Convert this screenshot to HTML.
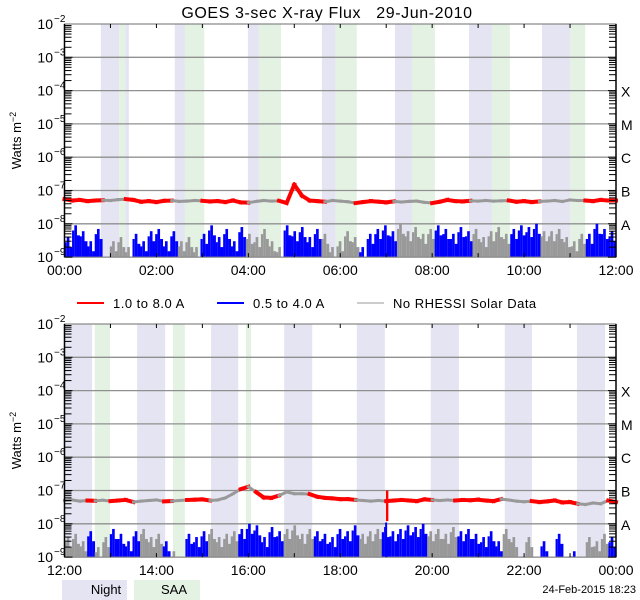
<!DOCTYPE html>
<html><head><meta charset="utf-8"><style>
html,body{margin:0;padding:0;background:#fff;}
svg{display:block;font-family:"Liberation Sans",sans-serif;}
</style></head><body>
<svg id="chart" width="640" height="600" viewBox="0 0 640 600" xmlns="http://www.w3.org/2000/svg">
<text x="327" y="18" font-size="16" text-anchor="middle" fill="#000" xml:space="preserve" letter-spacing="0.6">GOES 3-sec X-ray Flux   29-Jun-2010</text>
<g id="p0"></g>
<g id="p1"></g>
<g>
 <line x1="77" y1="303" x2="104" y2="303" stroke="#f00" stroke-width="2"/>
 <text x="113" y="308" font-size="13" letter-spacing="0.5">1.0 to 8.0 A</text>
 <line x1="217" y1="303" x2="244" y2="303" stroke="#00f" stroke-width="2"/>
 <text x="253" y="308" font-size="13" letter-spacing="0.5">0.5 to 4.0 A</text>
 <line x1="357" y1="303" x2="384" y2="303" stroke="#999" stroke-width="1"/>
 <text x="393" y="308" font-size="13" letter-spacing="0.5">No RHESSI Solar Data</text>
</g>
<g>
 <rect x="62" y="580" width="65" height="20" fill="#e4e4f2"/>
 <text x="106" y="594" font-size="13" text-anchor="middle">Night</text>
 <rect x="134" y="580" width="66" height="20" fill="#e4f2e4"/>
 <text x="174" y="594" font-size="13" text-anchor="middle">SAA</text>
</g>
<text x="636" y="593" font-size="11" text-anchor="end">24-Feb-2015 18:23</text>
</svg>
<script>
// ---- data ----
const hourTicks0 = ["00:00","02:00","04:00","06:00","08:00","10:00","12:00"];
const hourTicks1 = ["12:00","14:00","16:00","18:00","20:00","22:00","00:00"];
const classLabels = ["X","M","C","B","A"];
const nightBands0 = [[0.79,1.19],[1.32,1.40],[2.40,2.62],[3.99,4.23],[5.60,5.90],[7.19,7.56],[8.80,9.30],[10.39,11.00]];
const saaBands0 = [[1.19,1.32],[2.62,3.04],[4.23,4.71],[5.90,6.36],[7.56,8.06],[9.30,9.69],[11.00,11.33]];
const nightBands1 = [[12.0,12.60],[13.58,14.19],[15.19,15.78],[16.78,17.39],[18.36,18.97],[19.97,20.58],[21.58,22.17],[23.15,23.76]];
const saaBands1 = [[12.66,12.99],[14.36,14.62],[15.95,16.06]];
const grayIntervals0 = [[0.79,1.40],[2.40,3.04],[3.99,4.71],[5.60,6.36],[7.19,8.02],[8.80,9.65],[10.39,11.28]];
const grayIntervals1 = [[12.0,12.55],[12.72,12.95],[13.58,14.17],[14.38,14.60],[15.19,15.77],[16.03,16.10],[16.72,17.39],[18.36,18.97],[19.97,20.56],[21.58,22.17],[23.15,23.76]];
// long channel (1-8 A), units 1e-8 W/m2, 10-minute samples
const longFlux0 = [5.5,5.0,5.2,4.8,5.0,5.1, 5.0,5.3,5.5,5.2,4.6,4.8, 4.5,4.9,5.0,4.7,4.8,5.0, 4.9,4.7,4.8,4.5,5.0,4.4, 4.3,4.7,5.0,4.8,4.9,4.2, 15,7.0,5.0,4.8,4.6,5.0, 4.8,4.6,4.2,4.5,4.8,4.6, 4.4,4.7,4.5,4.7,4.8,4.4, 4.2,4.6,5.2,4.8,4.7,4.9, 4.8,5.0,4.8,4.9,5.0,4.6, 4.8,4.5,4.7,4.8,5.0,4.7, 5.2,5.0,5.0,4.8,5.2,5.0,5.0];
const longFlux1 = [5.0,5.2,4.8,5.0,4.9,5.1, 4.8,5.0,5.2,4.5,4.8,5.0, 5.2,4.7,4.8,5.0,5.2,5.3, 5.4,5.0,5.2,6.0,8.0,11, 13,9.0,6.2,6.0,7.0,9.0, 8.0,8.0,7.8,6.5,6.0,5.8, 5.5,5.5,5.2,5.0,4.8,5.0, 4.8,5.0,5.2,5.0,4.8,5.4, 5.2,5.0,5.2,5.0,5.2,5.1, 5.3,5.0,4.8,5.5,5.2,4.8, 4.6,4.8,4.5,4.7,5.0,4.4, 4.5,4.0,3.8,4.2,4.0,5.0,4.5];
// short channel (0.5-4 A), units 1e-9 W/m2, 10-minute samples (<1 = below floor)
const shortFlux0 = [4,9,6,3,7,1, 3,4,2,5,3,6, 7,3,6,3,4,2, 5,9,4,7,3,8, 5,4,7,3,2,9, 6,8,4,7,5,2, 3,6,4,2,5,7, 9,6,10,6,8,5, 7,9,7,5,8,6, 7,4,6,8,5,7, 9,8,10,6,6,7, 4,3,5,5,10,7,6];
const shortFlux1 = [4,5,3,6,2,4, 7,5,3,6,7,4, 5,3,1.5,0.5,5,4, 6,7,4,5,6,7, 10,9,4,8,6,7, 9,5,7,6,5,4, 7,6,9,5,6,7, 8,6,7,9,8,10, 6,7,5,8,6,7, 5,4,6,3,7,4, 1,4,1,3,0.5,5, 0.5,1.5,0.5,4,3,5,4];
const glitchTime = 19.02, glitchHigh = 1.0e-7, glitchLow = 1.2e-8;

// ---- layout ----
const NS = "http://www.w3.org/2000/svg";
const X0 = 64.5, X1 = 616, DEC = 33.3;
function mk(tag, attrs, parent){const e=document.createElementNS(NS,tag);for(const k in attrs)e.setAttribute(k,attrs[k]);parent.appendChild(e);return e;}
function inIntervals(h, iv){return iv.some(r=>h>=r[0]&&h<r[1]);}

function drawPanel(gid, top, startH, nightB, saaB, grayIv, longF, shortF, ticks){
  const g = document.getElementById(gid);
  const xs = h => X0 + (h-startH)/12*(X1-X0);
  const ys = v => top + (-2 - Math.log10(v))*DEC;
  const bottom = top + 7*DEC;
  for(const b of nightB){const r=mk("rect",{x:xs(b[0]),y:top,width:xs(b[1])-xs(b[0]),height:bottom-top,fill:"#e4e4f2"},g);
    
    }
  for(const b of saaB){const r=mk("rect",{x:xs(b[0]),y:top,width:xs(b[1])-xs(b[0]),height:bottom-top,fill:"#e4f2e4"},g);
    
    }
  for(let d=0; d<=7; d++){const y=top+d*DEC;const l=mk("line",{x1:X0,x2:X1,y1:y,y2:y,stroke:"#909090","stroke-width":1.3},g);
    
    }
  // short channel bars
  const ns = shortF.length, dt = 12/ns;
  for(let i=0;i<ns;i++){
    const v=shortF[i]*1e-9; if(v<=1e-9) continue;
    const h=startH+i*dt; const gray=inIntervals(h+dt/2,grayIv);
    const x=xs(h), w=xs(h+dt)-x;
    const fill=gray?"#999":"#00f";
    const b1=mk("rect",{x:x,y:ys(v*0.7),width:w*0.3,height:bottom-ys(v*0.7),fill:fill},g);
    
    
    const b2=mk("rect",{x:x+w*0.3,y:ys(v),width:w*0.35,height:bottom-ys(v),fill:fill},g);
    
    
    const v3=Math.max(1e-9,v*0.5);
    const b3=mk("rect",{x:x+w*0.65,y:ys(v3),width:w*0.35+0.3,height:bottom-ys(v3),fill:fill},g);
    
    
  }
  // long channel segments
  const nl = longF.length-1, dl = 12/nl;
  for(let i=0;i<nl;i++){
    const h=startH+i*dl; const gray=inIntervals(h+dl/2,grayIv);
    const s=mk("line",{x1:xs(h),y1:ys(longF[i]*1e-8),x2:xs(h+dl),y2:ys(longF[i+1]*1e-8),stroke:gray?"#999":"#f00","stroke-width":gray?3:4,"stroke-linecap":"square"},g);
    
    
  }
  const fr=mk("rect",{x:X0,y:top,width:X1-X0,height:bottom-top,fill:"none",stroke:"#888","stroke-width":1},g);
  
  
  mk("line",{x1:X0,x2:X0,y1:top,y2:bottom,stroke:"#000","stroke-width":1.5},g);
  mk("line",{x1:X1,x2:X1,y1:top,y2:bottom,stroke:"#000","stroke-width":1.5},g);
  for(let d=0; d<7; d++){
    for(let m=1;m<10;m++){
      const y=top+(d+1)*DEC - Math.log10(m)*DEC;
      const len = m===1?8:7;
      mk("line",{x1:X0,x2:X0+len,y1:y,y2:y,stroke:"#000","stroke-width":1},g);
      mk("line",{x1:X1-len,x2:X1,y1:y,y2:y,stroke:"#000","stroke-width":1},g);
    }
  }
  for(let k=0;k<=12;k++){const x=xs(startH+k);
    mk("line",{x1:x,x2:x,y1:top,y2:top+4,stroke:"#000"},g);
    mk("line",{x1:x,x2:x,y1:bottom-4,y2:bottom,stroke:"#000"},g);}
  for(let d=0; d<=7; d++){
    const y=top+d*DEC+5;
    const t=mk("text",{x:53,y:y,"font-size":14,"text-anchor":"end"},g); t.textContent="10";
    
    
    const e=mk("text",{x:54,y:y-7,"font-size":10},g); e.textContent="\u2212"+(2+d);
  }
  const yt=mk("text",{x:21,y:top+DEC*3.5,"font-size":13,"text-anchor":"middle",transform:`rotate(-90 21 ${top+DEC*3.5})`},g);
  
  
  yt.innerHTML='Watts m<tspan dy="-5" font-size="9">\u22122</tspan>';
  classLabels.forEach((c,i)=>{const t=mk("text",{x:621,y:top+(2+i)*DEC+6,"font-size":14},g);t.textContent=c;
    
    });
  ticks.forEach((lab,i)=>{const t=mk("text",{x:xs(startH+i*2),y:bottom+18,"font-size":14,"text-anchor":"middle"},g);t.textContent=lab;
    
    });
  return {xs,ys,g,bottom};
}
drawPanel("p0",24,0,nightBands0,saaBands0,grayIntervals0,longFlux0,shortFlux0,hourTicks0);
const p1=drawPanel("p1",324,12,nightBands1,saaBands1,grayIntervals1,longFlux1,shortFlux1,hourTicks1);
const gl=mk("line",{x1:p1.xs(glitchTime),x2:p1.xs(glitchTime),y1:p1.ys(glitchHigh),y2:p1.ys(glitchLow),stroke:"#f00","stroke-width":2.5},p1.g);


const gb=mk("line",{x1:p1.xs(glitchTime)-1,x2:p1.xs(glitchTime)-1,y1:p1.ys(1.1e-8),y2:p1.bottom,stroke:"#00f","stroke-width":2},p1.g);


</script>
</body></html>
